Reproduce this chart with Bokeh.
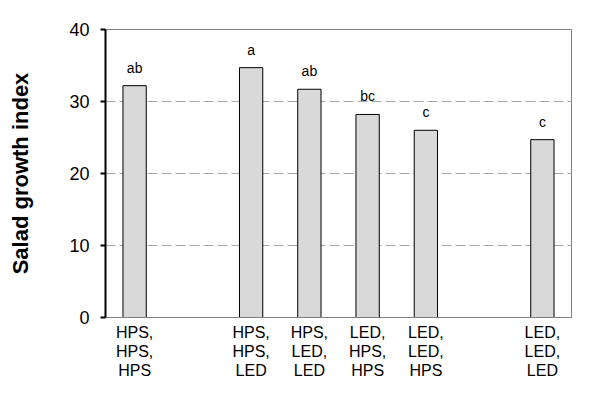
from bokeh.plotting import figure
from bokeh.models import ColumnDataSource, FactorRange, Range1d, FixedTicker
from bokeh.core.properties import value
from bokeh.embed import file_html
from bokeh.resources import INLINE

# Data
categories = ["HPS,\nHPS,\nHPS", "HPS,\nHPS,\nLED", "HPS,\nLED,\nLED",
              "LED,\nHPS,\nHPS", "LED,\nLED,\nHPS", "LED,\nLED,\nLED"]
values = [32.2, 34.7, 31.7, 28.2, 26.0, 24.7]
letters = ["ab", "a", "ab", "bc", "c", "c"]
y_ticks = [0, 10, 20, 30, 40]
grid_ticks = [10, 20, 30]

# Axis order with empty slots (gaps) as in the original
factors = [categories[0], " ", categories[1], categories[2],
           categories[3], categories[4], "  ", categories[5]]

FONT = "Liberation Sans"

p = figure(width=585, height=403, output_backend="svg", toolbar_location=None,
           x_range=FactorRange(factors=factors, range_padding=0),
           y_range=Range1d(0, 40),
           min_border_left=105, min_border_right=14,
           min_border_top=29, min_border_bottom=86)
p.background_fill_color = "white"
p.border_fill_color = "white"
p.outline_line_color = "#808080"
p.outline_line_width = 1

src = ColumnDataSource(dict(cat=categories, val=values, lab=letters))
p.vbar(x="cat", top="val", width=0.4, bottom=0, source=src,
       fill_color="#d9d9d9", line_color="black", line_width=1)
p.text(x="cat", y="val", text="lab", source=src, y_offset=-10,
       text_align="center", text_baseline="bottom",
       text_font=value(FONT), text_font_size="14px", text_color="black")

# grids
p.xgrid.grid_line_color = None
p.ygrid.ticker = FixedTicker(ticks=grid_ticks)
p.ygrid.grid_line_color = "#a6a6a6"
p.ygrid.grid_line_dash = "10 4"
p.ygrid.grid_line_width = 1

# y axis
ya = p.yaxis[0]
ya.ticker = FixedTicker(ticks=y_ticks)
ya.axis_line_color = "black"
ya.axis_line_width = 2
ya.major_tick_line_color = "black"
ya.major_tick_line_width = 2
ya.major_tick_out = 5
ya.major_tick_in = 0
ya.minor_tick_line_color = None
ya.major_label_text_font = FONT
ya.major_label_text_font_size = "18px"
ya.major_label_text_color = "black"
ya.major_label_standoff = 11
ya.axis_label = "Salad growth index"
ya.axis_label_text_font = FONT
ya.axis_label_text_font_style = "bold"
ya.axis_label_text_font_size = "22px"
ya.axis_label_text_color = "black"
ya.axis_label_standoff = 33

# x axis
xa = p.xaxis[0]
xa.axis_line_color = "#808080"
xa.axis_line_width = 1
xa.major_tick_line_color = None
xa.minor_tick_line_color = None
xa.major_label_text_font = FONT
xa.major_label_text_font_size = "16px"
xa.major_label_text_line_height = 1.12
xa.major_label_text_color = "black"
xa.major_label_standoff = 0
xa.major_label_orientation = "horizontal"

open("out.html", "w").write(file_html(p, INLINE))
